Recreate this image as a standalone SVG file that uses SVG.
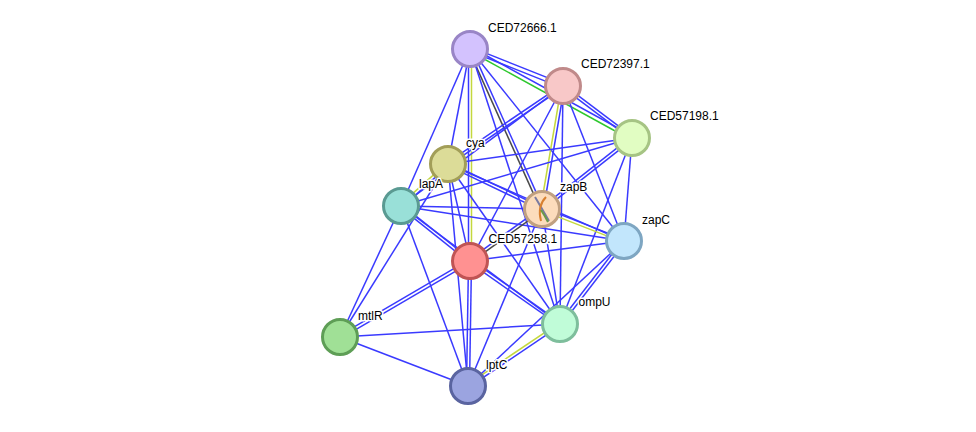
<svg xmlns="http://www.w3.org/2000/svg" width="976" height="432" viewBox="0 0 976 432">
<style>
.e{stroke:#3a3aff;stroke-width:1.5;fill:none}
.y{stroke:#c4d83e;stroke-width:1.5;fill:none}
.g{stroke:#2ec82e;stroke-width:1.5;fill:none}
.k{stroke:#4a4a4a;stroke-width:1.5;fill:none}
.n{stroke-width:3}
.t{font-family:"Liberation Sans",Arial,sans-serif;font-size:12px;fill:#000;stroke:#fff;stroke-width:3px;stroke-linejoin:round;paint-order:stroke fill}
</style>
<rect width="976" height="432" fill="#fff"/>
<g id="edges">
<!-- A: CED72666.1 (470,49) -->
<line class="e" x1="469.26" y1="50.86" x2="562.26" y2="87.86"/>
<line class="e" x1="470.74" y1="47.14" x2="563.74" y2="84.14"/>
<line class="e" x1="470.96" y1="47.25" x2="632.96" y2="136.25"/>
<line class="g" x1="469.04" y1="50.75" x2="631.04" y2="139.75"/>
<line class="e" x1="470" y1="49" x2="448" y2="164"/>
<line class="e" x1="470" y1="49" x2="401" y2="206"/>
<line class="e" x1="468.5" y1="49" x2="468.5" y2="261"/>
<line class="y" x1="471.5" y1="49" x2="471.5" y2="261"/>
<line class="e" x1="471.37" y1="48.38" x2="543.37" y2="208.38"/>
<line class="k" x1="468.63" y1="49.62" x2="540.63" y2="209.62"/>
<line class="e" x1="470" y1="49" x2="560" y2="324"/>
<line class="e" x1="470" y1="49" x2="624" y2="241"/>
<!-- B: CED72397.1 (563,86) -->
<line class="e" x1="562.1" y1="87.2" x2="631.1" y2="139.2"/>
<line class="e" x1="563.9" y1="84.8" x2="632.9" y2="136.8"/>
<line class="e" x1="562.16" y1="84.76" x2="447.16" y2="162.76"/>
<line class="e" x1="563.84" y1="87.24" x2="448.84" y2="165.24"/>
<line class="e" x1="563" y1="86" x2="401" y2="206"/>
<line class="y" x1="561.52" y1="85.75" x2="540.52" y2="208.75"/>
<line class="e" x1="564.48" y1="86.25" x2="543.48" y2="209.25"/>
<line class="e" x1="563" y1="86" x2="470" y2="261"/>
<line class="e" x1="563" y1="86" x2="560" y2="324"/>
<line class="e" x1="563" y1="86" x2="624" y2="241"/>
<!-- C: CED57198.1 (632,138) -->
<line class="e" x1="632" y1="138" x2="448" y2="164"/>
<line class="e" x1="632" y1="138" x2="401" y2="206"/>
<line class="e" x1="631.07" y1="136.82" x2="541.07" y2="207.82"/>
<line class="e" x1="632.93" y1="139.18" x2="542.93" y2="210.18"/>
<line class="e" x1="632" y1="138" x2="624" y2="241"/>
<line class="e" x1="632" y1="138" x2="560" y2="324"/>
<!-- Y: cya (448,164) -->
<line class="e" x1="447.35" y1="165.35" x2="541.35" y2="210.35"/>
<line class="e" x1="448.65" y1="162.65" x2="542.65" y2="207.65"/>
<line class="y" x1="447" y1="162.88" x2="400" y2="204.88"/>
<line class="e" x1="449" y1="165.12" x2="402" y2="207.12"/>
<line class="e" x1="448" y1="164" x2="624" y2="241"/>
<line class="e" x1="448" y1="164" x2="470" y2="261"/>
<line class="e" x1="448" y1="164" x2="560" y2="324"/>
<line class="e" x1="448" y1="164" x2="340" y2="337"/>
<line class="e" x1="448" y1="164" x2="468" y2="386"/>
<!-- L: lapA (401,206) -->
<line class="e" x1="401" y1="206" x2="542" y2="209"/>
<line class="e" x1="401" y1="206" x2="624" y2="241"/>
<line class="e" x1="400.06" y1="207.17" x2="469.06" y2="262.17"/>
<line class="e" x1="401.94" y1="204.83" x2="470.94" y2="259.83"/>
<line class="e" x1="401" y1="206" x2="560" y2="324"/>
<line class="e" x1="401" y1="206" x2="340" y2="337"/>
<line class="e" x1="401" y1="206" x2="468" y2="386"/>
<!-- Z: zapB (542,209) -->
<line class="y" x1="541.45" y1="210.4" x2="623.45" y2="242.4"/>
<line class="e" x1="542.55" y1="207.6" x2="624.55" y2="239.6"/>
<line class="e" x1="541.12" y1="207.78" x2="469.12" y2="259.78"/>
<line class="k" x1="542.88" y1="210.22" x2="470.88" y2="262.22"/>
<line class="e" x1="542" y1="209" x2="560" y2="324"/>
<line class="e" x1="542" y1="209" x2="468" y2="386"/>
<!-- Zc: zapC (624,241) -->
<line class="e" x1="624" y1="241" x2="470" y2="261"/>
<line class="e" x1="622.81" y1="240.08" x2="558.81" y2="323.08"/>
<line class="e" x1="625.19" y1="241.92" x2="561.19" y2="324.92"/>
<line class="e" x1="624" y1="241" x2="468" y2="386"/>
<!-- R: CED57258.1 (470,261) -->
<line class="e" x1="469.24" y1="259.71" x2="339.24" y2="335.71"/>
<line class="e" x1="470.76" y1="262.29" x2="340.76" y2="338.29"/>
<line class="e" x1="469.14" y1="262.23" x2="559.14" y2="325.23"/>
<line class="e" x1="470.86" y1="259.77" x2="560.86" y2="322.77"/>
<line class="e" x1="468.5" y1="261" x2="466.5" y2="386"/>
<line class="e" x1="471.5" y1="261" x2="469.5" y2="386"/>
<!-- M, O, P -->
<line class="e" x1="340" y1="337" x2="560" y2="324"/>
<line class="e" x1="340" y1="337" x2="468" y2="386"/>
<line class="y" x1="559.16" y1="322.76" x2="467.16" y2="384.76"/>
<line class="e" x1="560.84" y1="325.24" x2="468.84" y2="387.24"/>
</g>
<g id="CED72666.1"><circle class="n" cx="470" cy="49" r="17.5" fill="#d3c2fe" stroke="#9985c6"/></g>
<g id="CED72397.1"><circle class="n" cx="563" cy="86" r="17.5" fill="#f8c8c8" stroke="#c08a8a"/></g>
<g id="CED57198.1"><circle class="n" cx="632" cy="138" r="17.5" fill="#e1fdc2" stroke="#a6c484"/></g>
<g id="cya"><circle class="n" cx="448" cy="164" r="17.5" fill="#dcdc98" stroke="#a29e58"/></g>
<g id="lapA"><circle class="n" cx="401" cy="206" r="17.5" fill="#99e0d8" stroke="#5a9a92"/></g>
<g id="zapB"><circle class="n" cx="542" cy="209" r="17.5" fill="#fcdcbc" stroke="#c0a080"/>
<path d="M535 197 Q541 207 549 221" stroke="#7a7aa0" stroke-width="2" fill="none"/>
<path d="M546 197 Q537 206 541 221" stroke="#d88030" stroke-width="2" fill="none"/>
<path d="M541 210 Q545 216 548 222" stroke="#6a9a4a" stroke-width="2" fill="none"/></g>
<g id="zapC"><circle class="n" cx="624" cy="241" r="17.5" fill="#c2e6fc" stroke="#7ea6c2"/></g>
<g id="CED57258.1"><circle class="n" cx="470" cy="261" r="17.5" fill="#ff9191" stroke="#c05454"/></g>
<g id="mtlR"><circle class="n" cx="340" cy="337" r="17.5" fill="#a0e096" stroke="#5e9e56"/></g>
<g id="ompU"><circle class="n" cx="560" cy="324" r="17.5" fill="#c0fcd8" stroke="#7ebe9c"/></g>
<g id="lptC"><circle class="n" cx="468" cy="386" r="17.5" fill="#9ba4e0" stroke="#5a64a0"/></g>
<g id="labels">
<text class="t" x="488" y="31.5">CED72666.1</text>
<text class="t" x="581" y="68">CED72397.1</text>
<text class="t" x="650" y="120">CED57198.1</text>
<text class="t" x="466" y="146.5">cya</text>
<text class="t" x="419" y="188">lapA</text>
<text class="t" x="560" y="191">zapB</text>
<text class="t" x="642" y="223.5">zapC</text>
<text class="t" x="488.5" y="242.5">CED57258.1</text>
<text class="t" x="358" y="319.5">mtlR</text>
<text class="t" x="578.5" y="306">ompU</text>
<text class="t" x="486" y="368.5">lptC</text>
</g>
</svg>
